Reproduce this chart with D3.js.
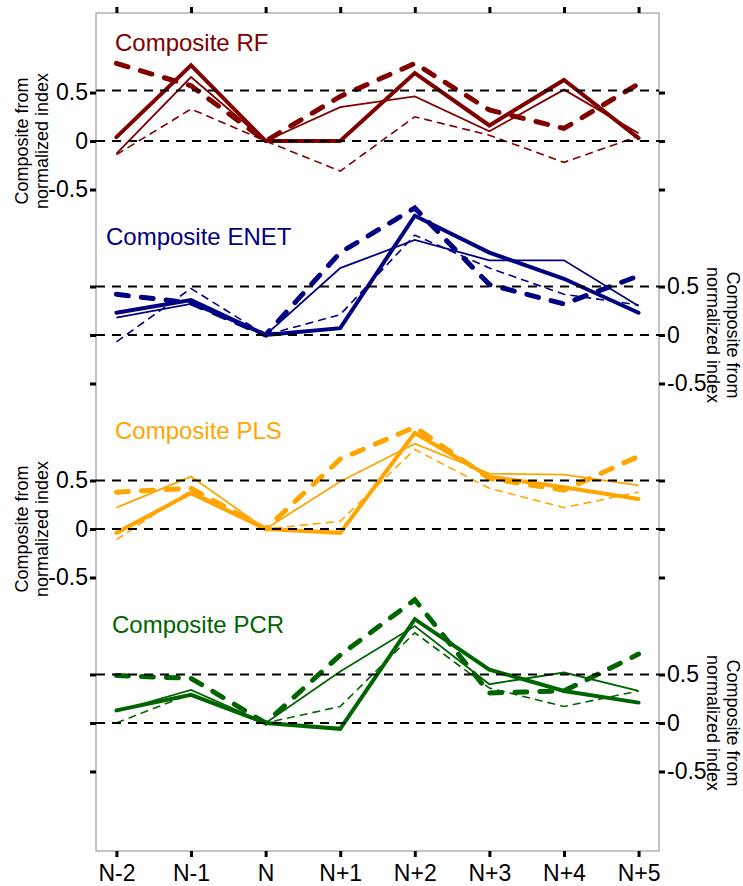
<!DOCTYPE html>
<html>
<head>
<meta charset="utf-8">
<script src="https://cdn.jsdelivr.net/npm/d3@7"></script>
<style>
  body { margin: 0; background: #fff; }
  svg { font-family: "Liberation Sans", Arial, sans-serif; }
</style>
</head>
<body>
<svg id="chart"></svg>
<script>
const width = 743;
const height = 886;

// data
const categories = ['N-2', 'N-1', 'N', 'N+1', 'N+2', 'N+3', 'N+4', 'N+5'];
const models = ['RF', 'ENET', 'PLS', 'PCR'];
const thresholds = [0.52, 0.5, 0.5, 0.5];
const yTicks = [-0.5, 0, 0.5];

const rfThick = [0.04, 0.78, 0, 0, 0.70, 0.16, 0.63, 0.03];
const rfThin = [-0.13, 0.66, 0, 0.35, 0.46, 0.10, 0.53, 0.08];
const rfThickDash = [0.80, 0.57, 0, 0.46, 0.80, 0.32, 0.13, 0.59];
const rfThinDash = [-0.14, 0.33, 0, -0.31, 0.25, 0.06, -0.22, 0.05];

const enetThick = [0.23, 0.36, 0, 0.07, 1.23, 0.85, 0.58, 0.23];
const enetThin = [0.18, 0.32, 0, 0.69, 0.98, 0.77, 0.77, 0.30];
const enetThickDash = [0.42, 0.33, 0, 0.85, 1.31, 0.52, 0.32, 0.61];
const enetThinDash = [-0.07, 0.48, 0, 0.21, 1.03, 0.69, 0.42, 0.31];

const plsThick = [-0.04, 0.37, 0, -0.04, 0.99, 0.54, 0.43, 0.31];
const plsThin = [0.22, 0.54, 0, 0.49, 0.88, 0.57, 0.56, 0.45];
const plsThickDash = [0.38, 0.42, 0, 0.72, 1.05, 0.52, 0.40, 0.75];
const plsThinDash = [-0.11, 0.40, 0, 0.08, 0.82, 0.42, 0.22, 0.38];

const pcrThick = [0.13, 0.29, 0, -0.06, 1.07, 0.55, 0.33, 0.21];
const pcrThin = [0.12, 0.34, 0, 0.53, 1.00, 0.40, 0.52, 0.33];
const pcrThickDash = [0.49, 0.46, 0, 0.70, 1.27, 0.31, 0.33, 0.71];
const pcrThinDash = [0.0, 0.30, 0, 0.17, 0.93, 0.36, 0.17, 0.33];

const panelSeries = [
  [rfThick, rfThin, rfThickDash, rfThinDash],
  [enetThick, enetThin, enetThickDash, enetThinDash],
  [plsThick, plsThin, plsThickDash, plsThinDash],
  [pcrThick, pcrThin, pcrThickDash, pcrThinDash]
];

// styles
const colors = ['#800000', '#000080', '#ffa500', '#006400'];
const lineStyles = [
  { w: 4, dash: null, cap: 'round' },
  { w: 1.8, dash: null, cap: 'butt' },
  { w: 5, dash: '12,13', cap: 'round' },
  { w: 1.6, dash: '8,5', cap: 'butt' }
];
const titleX = [115, 106, 115, 112];

const box = { left: 96, right: 659, top: 13, bottom: 851 };

const svg = d3.select('#chart')
  .attr('width', width)
  .attr('height', height);

const x = d3.scalePoint()
  .domain(categories)
  .range([box.left, box.right])
  .padding(0.274);

// one long y scale, each panel shifted down by 2 units
const y = d3.scaleLinear()
  .domain([-7.32, 1.32])
  .range([box.bottom, box.top]);

svg.append('rect')
  .attr('x', box.left)
  .attr('y', box.top)
  .attr('width', box.right - box.left)
  .attr('height', box.bottom - box.top)
  .attr('fill', 'none')
  .attr('stroke', '#8a8a8a')
  .attr('stroke-width', 1);

// top and bottom axes
const topAxis = svg.append('g')
  .attr('transform', `translate(0,${box.top})`)
  .call(d3.axisTop(x).tickSize(6).tickFormat(''));
const bottomAxis = svg.append('g')
  .attr('transform', `translate(0,${box.bottom})`)
  .call(d3.axisBottom(x).tickSize(6).tickPadding(8));
bottomAxis.selectAll('text')
  .attr('font-size', 23)
  .attr('fill', '#000');

[topAxis, bottomAxis].forEach(g => {
  g.select('.domain').remove();
  g.selectAll('line').attr('stroke', '#000').attr('stroke-width', 3);
});

models.forEach((m, i) => {
  const yP = d3.scaleLinear()
    .domain([-1, 1])
    .range([y(-2 * i - 1), y(-2 * i + 1)]);
  const labelLeft = i % 2 === 0;

  const leftAxis = svg.append('g')
    .attr('transform', `translate(${box.left},0)`)
    .call(d3.axisLeft(yP).tickValues(yTicks).tickSize(6).tickPadding(2));
  const rightAxis = svg.append('g')
    .attr('transform', `translate(${box.right},0)`)
    .call(d3.axisRight(yP).tickValues(yTicks).tickSize(6).tickPadding(2));

  [leftAxis, rightAxis].forEach(g => {
    g.select('.domain').remove();
    g.selectAll('line').attr('stroke', '#000').attr('stroke-width', 3);
    g.selectAll('text').attr('font-size', 23).attr('fill', '#000')
      .text(d => String(d));
  });
  if (labelLeft) rightAxis.selectAll('text').remove();
  else leftAxis.selectAll('text').remove();

  // axis title
  const z = yP(0);
  const lab = svg.append('text')
    .attr('font-size', 18)
    .attr('text-anchor', 'middle')
    .attr('fill', '#000');
  if (labelLeft) {
    lab.attr('transform', `translate(28,${z}) rotate(-90)`);
  } else {
    lab.attr('transform', `translate(727,${z}) rotate(90)`);
  }
  lab.append('tspan').attr('x', 0).attr('y', 0).text('Composite from');
  lab.append('tspan').attr('x', 0).attr('y', 20).text('normalized index');

  // series
  const line = d3.line()
    .x((d, j) => x(categories[j]))
    .y(d => yP(d));

  const order = [1, 3, 0, 2];
  order.forEach(k => {
    const st = lineStyles[k];
    svg.append('path')
      .datum(panelSeries[i][k])
      .attr('d', line)
      .attr('fill', 'none')
      .attr('stroke', colors[i])
      .attr('stroke-width', st.w)
      .attr('stroke-linecap', st.cap)
      .attr('stroke-linejoin', 'miter')
      .attr('stroke-dasharray', st.dash);
  });

  // reference lines
  [0, thresholds[i]].forEach(v => {
    svg.append('line')
      .attr('x1', box.left)
      .attr('x2', box.right)
      .attr('y1', yP(v))
      .attr('y2', yP(v))
      .attr('stroke', '#000')
      .attr('stroke-width', 2)
      .attr('stroke-dasharray', '9,7');
  });

  svg.append('text')
    .attr('x', titleX[i])
    .attr('y', z - 90)
    .attr('font-size', 24)
    .attr('fill', colors[i])
    .text('Composite ' + m);
});
</script>
</body>
</html>
